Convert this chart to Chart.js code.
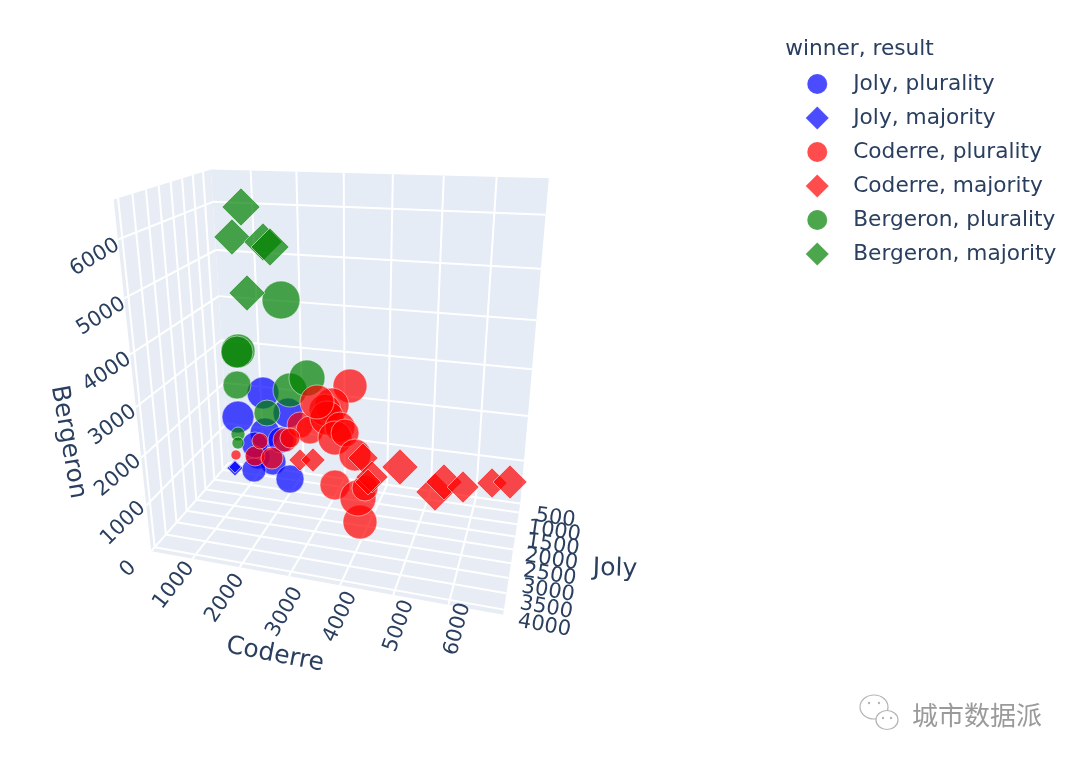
<!DOCTYPE html>
<html><head><meta charset="utf-8">
<style>html,body{margin:0;background:#fff}canvas{display:block}</style>
<script src="https://cdn.jsdelivr.net/npm/chart.js@4"></script></head>
<body><canvas id="c" width="1080" height="763"></canvas>
<script>
// ---- data ----
const joly_plurality_coderre=[2116,1827,2090,2398,1543,1973,1519,2496,2036,1602];
const joly_plurality_joly=[2814,3421,2733,2206,1801,2044,2004,2490,1680,2085];
const joly_plurality_bergeron=[2992,2720,2140,2378,1127,1186,921,1097,1524,1535];
const joly_plurality_total=[7936,7936,6975,6975,4464,5239,4464,6076,5239,5239];
const joly_majority_coderre=[638,444];
const joly_majority_joly=[991,546];
const joly_majority_bergeron=[359,144];
const joly_majority_total=[1984,1116];
const coderre_plurality_coderre=[346,1196,1647,995,1951,2319,2658,1769,3681,3445,3172,3415,3199,3330,3603,3293,3824,3433,4253,4295,3727];
const coderre_plurality_joly=[222,1113,1234,262,1194,1234,1599,343,2206,2652,2206,2895,2814,1680,3016,1153,2368,2449,3664,3988,1113];
const coderre_plurality_bergeron=[285,786,856,743,1300,1708,1792,953,3074,2839,2531,2676,2934,1975,2353,1614,1744,1085,1073,1733,389];
const coderre_plurality_total=[775,3100,3751,1984,4464,5239,6076,3100,8959,8959,7936,8959,8959,6975,8959,6076,7936,6975,8959,10044,5239];
const coderre_majority_coderre=[2175,2544,3837,4180,3764,4872,5611,5636,5830,6330,6748];
const coderre_majority_joly=[870,1072,1761,2409,991,3138,3705,2773,1275,222,1194];
const coderre_majority_bergeron=[712,858,1402,1348,475,2004,1907,1638,812,452,1020];
const coderre_majority_total=[3751,4464,6975,7936,5239,10044,11191,10044,7936,6975,8959];
const bergeron_plurality_coderre=[2778,1815,1570,1254,2737,3168,1682,446,416];
const bergeron_plurality_joly=[3462,3219,2692,2044,3016,3300,1518,262,222];
const bergeron_plurality_bergeron=[4983,3916,3704,2778,3194,3570,2016,847,600];
const bergeron_plurality_total=[11191,8959,7936,6076,8959,10044,5239,1519,1116];
const bergeron_majority_coderre=[1885,1579,2318,2431,2001];
const bergeron_majority_joly=[2895,2652,3016,2976,3097];
const bergeron_majority_bergeron=[6396,5827,5846,5758,4958];
const bergeron_majority_total=[11191,10044,11191,11191,10044];
const coderreTicks=[1000,2000,3000,4000,5000,6000];
const jolyTicks=[500,1000,1500,2000,2500,3000,3500,4000];
const bergeronTicks=[0,1000,2000,3000,4000,5000,6000];

// ---- 3D axis ranges and camera ----
const RANGE={c:[100,6950],j:[100,4150],b:[0,6650]};
const CAM=[238.06695,-104.77522,-45.697,229.11114,-10.4415,-9.33316,-315.19219,462.54784,-0.10198,-0.17772,-0.13005];
function camera(u,v,w){const d=CAM[8]*u+CAM[9]*v+CAM[10]*w+1;
  return {x:(CAM[0]*u+CAM[1]*v+CAM[2]*w+CAM[3])/d,y:(CAM[4]*u+CAM[5]*v+CAM[6]*w+CAM[7])/d};}
const nu=c=>(c-RANGE.c[0])/(RANGE.c[1]-RANGE.c[0]),nv=j=>(j-RANGE.j[0])/(RANGE.j[1]-RANGE.j[0]),nw=b=>(b-RANGE.b[0])/(RANGE.b[1]-RANGE.b[0]);
const SIZE_K=31;
const pts=(C,J,B,T)=>C.map((c,i)=>{const p=camera(nu(c),nv(J[i]),nw(B[i]));return{x:p.x,y:p.y,r:Math.sqrt(T[i]/SIZE_K)};});

const BLUE='rgba(0,0,255,0.7)',RED='rgba(255,0,0,0.7)',GREEN='rgba(0,128,0,0.7)';
const LINE='rgba(255,255,255,0.5)';
const mk=(label,data,color,style,order)=>({label,data,backgroundColor:color,borderColor:LINE,borderWidth:1,pointStyle:style,order,clip:false,_color:color});
const datasets=[
 mk('Joly, plurality',pts(joly_plurality_coderre,joly_plurality_joly,joly_plurality_bergeron,joly_plurality_total),BLUE,'circle',5),
 mk('Joly, majority',pts(joly_majority_coderre,joly_majority_joly,joly_majority_bergeron,joly_majority_total),BLUE,'rectRot',4),
 mk('Coderre, plurality',pts(coderre_plurality_coderre,coderre_plurality_joly,coderre_plurality_bergeron,coderre_plurality_total),RED,'circle',1),
 mk('Coderre, majority',pts(coderre_majority_coderre,coderre_majority_joly,coderre_majority_bergeron,coderre_majority_total),RED,'rectRot',0),
 mk('Bergeron, plurality',pts(bergeron_plurality_coderre,bergeron_plurality_joly,bergeron_plurality_bergeron,bergeron_plurality_total),GREEN,'circle',3),
 mk('Bergeron, majority',pts(bergeron_majority_coderre,bergeron_majority_joly,bergeron_majority_bergeron,bergeron_majority_total),GREEN,'rectRot',2)];

function legendMarker(color,style){
  const cv=document.createElement('canvas');cv.width=70;cv.height=28;const g=cv.getContext('2d');
  const cx=32.3,cy=14;g.fillStyle=color;g.beginPath();
  if(style==='circle'){g.arc(cx,cy,10,0,Math.PI*2);}
  else{g.moveTo(cx,cy-11.5);g.lineTo(cx+11.5,cy);g.lineTo(cx,cy+11.5);g.lineTo(cx-11.5,cy);g.closePath();}
  g.fill();return cv;}

const TXT='#2a3f5f';
const FONT='"DejaVu Sans"';
const scene={id:'scene',
 beforeDatasetsDraw(ch){
  const g=ch.ctx,X=ch.scales.x,Y=ch.scales.y;
  const P=(u,v,w)=>{const p=camera(u,v,w);return[X.getPixelForValue(p.x),Y.getPixelForValue(p.y)];};
  const poly=a=>{g.beginPath();a.forEach((p,i)=>{const q=P(...p);i?g.lineTo(q[0],q[1]):g.moveTo(q[0],q[1]);});g.closePath();g.fill();};
  const seg=(a,b)=>{const p=P(...a),q=P(...b);g.beginPath();g.moveTo(p[0],p[1]);g.lineTo(q[0],q[1]);g.stroke();};
  g.save();
  g.fillStyle='#e5ecf6';poly([[0,0,0],[1,0,0],[1,0,1],[0,0,1]]);
  g.fillStyle='#e8edf5';poly([[0,0,0],[1,0,0],[1,1,0],[0,1,0]]);poly([[0,0,0],[0,1,0],[0,1,1],[0,0,1]]);
  g.strokeStyle='#fff';g.lineWidth=2;
  coderreTicks.forEach(c=>{const u=nu(c);seg([u,0,0],[u,1,0]);seg([u,0,0],[u,0,1]);});
  jolyTicks.forEach(j=>{const v=nv(j);seg([0,v,0],[1,v,0]);seg([0,v,0],[0,v,1]);});
  bergeronTicks.forEach(b=>{const w=nw(b);seg([0,0,w],[1,0,w]);seg([0,0,w],[0,1,w]);});
  g.restore();
  const label=(t,x,y,a,f)=>{g.save();g.translate(x,y);g.rotate(a);g.font=f;g.fillStyle=TXT;g.textAlign='center';g.textBaseline='middle';g.fillText(t,0,0);g.restore();};
  const tf='21px '+FONT;
  const cdx=[5,5,12,13,15,15],cdy=[-3,2,8,5,6,1];
  coderreTicks.forEach((c,i)=>{const u=nu(c),a=P(u,0,0),b=P(u,1,0);const d=Math.atan2(b[1]-a[1],b[0]-a[0]);const off=38-(c-1000)/5000*14;
    label(String(c),b[0]+Math.cos(d)*off+cdx[i],b[1]+Math.sin(d)*off+cdy[i],d+Math.PI,tf);});
  jolyTicks.forEach(j=>{const v=nv(j),a=P(0,v,0),b=P(1,v,0);const d=Math.atan2(b[1]-a[1],b[0]-a[0]);const t=(j-500)/3500;
    label(String(j),b[0]+Math.cos(d)*41-4*(1-t),b[1]+Math.sin(d)*41+9*t,d,tf);});
  const bergAng=[-44,-44,-40,-36,-34,-32,-31];
  bergeronTicks.forEach((b,i)=>{const p=P(0,1,nw(b));label(String(b),p[0]-23,p[1]+18,bergAng[i]*Math.PI/180,tf);});
  const af='25px '+FONT;
  label('Joly',615,569,0.03,af);label('Coderre',275,655,0.19,af);label('Bergeron',68,442,1.40,af);
 },
 afterDraw(ch){
  const g=ch.ctx;g.save();
  g.font='26px "Noto Sans CJK SC"';g.fillStyle='#9a9a9a';g.textAlign='left';g.textBaseline='middle';g.fillText('城市数据派',912,715);
  g.strokeStyle='#b4b4b4';g.lineWidth=1.2;
  g.beginPath();g.ellipse(874,707,14,12,0,0,Math.PI*2);g.stroke();
  g.fillStyle='#fff';g.beginPath();g.ellipse(887,720,11,9.5,0,0,Math.PI*2);g.fill();g.stroke();
  g.fillStyle='#b4b4b4';[[869,703],[879,703],[883,718],[891,718]].forEach(p=>{g.beginPath();g.arc(p[0],p[1],1.2,0,Math.PI*2);g.fill();});
  g.restore();
 }};

const chart=new Chart(document.getElementById('c'),{
 type:'bubble',
 data:{datasets},
 plugins:[scene],
 options:{responsive:false,animation:false,
  layout:{autoPadding:false,padding:{right:13.7}},
  scales:{x:{type:'linear',display:false,min:0,max:800},y:{type:'linear',display:false,reverse:true,min:0,max:763}},
  plugins:{tooltip:{enabled:false},
   legend:{position:'right',align:'start',
    title:{display:true,position:'start',text:'winner, result',color:TXT,font:{family:FONT,size:21.7},padding:{top:39,bottom:-4.2}},
    labels:{usePointStyle:true,pointStyleWidth:44.85,padding:12.3,color:TXT,font:{family:FONT,size:21.7},
     generateLabels(ch){return ch.data.datasets.map((d,i)=>({text:d.label,fontColor:TXT,datasetIndex:i,hidden:false,lineWidth:0,pointStyle:legendMarker(d._color,d.pointStyle),fillStyle:d._color,strokeStyle:d._color}));}}}}}
});
chart.options.scales.x.max=chart.chartArea.width;
chart.options.scales.y.max=chart.chartArea.height;
chart.update('none');
</script></body></html>
